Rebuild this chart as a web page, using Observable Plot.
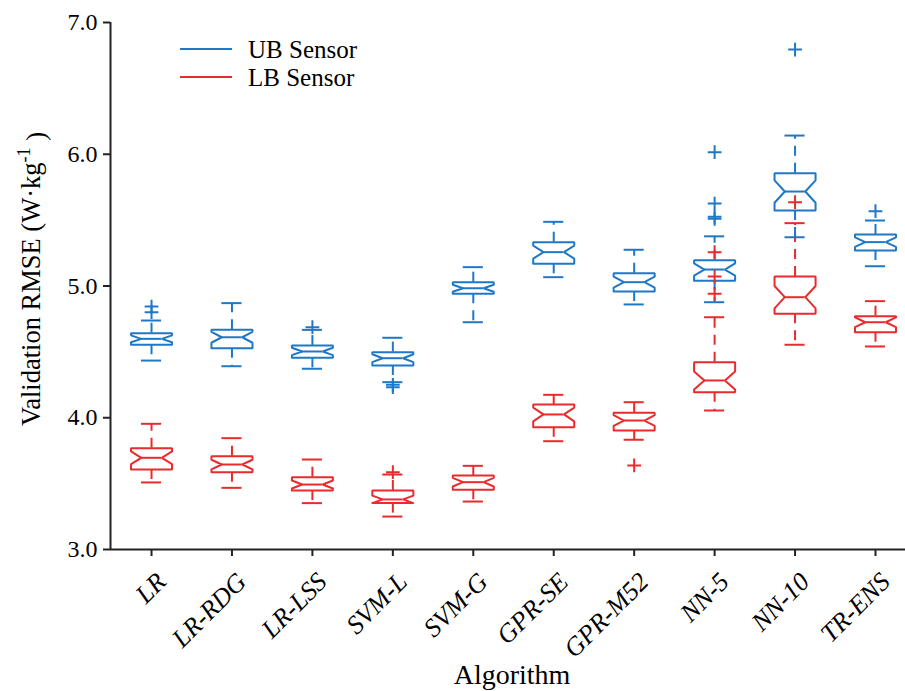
<!DOCTYPE html>
<html><head><meta charset="utf-8">
<script src="https://cdn.jsdelivr.net/npm/d3@7"></script>
<script src="https://cdn.jsdelivr.net/npm/@observablehq/plot@0.6"></script>
<style>body{margin:0;background:#fff} svg{display:block}</style>
</head><body><div id="chart"></div>
<script>
// ---- data ----
const algorithms = ["LR","LR-RDG","LR-LSS","SVM-L","SVM-G","GPR-SE","GPR-M52","NN-5","NN-10","TR-ENS"];
const yTicks = [3, 4, 5, 6, 7];
const seriesNames = ["UB Sensor", "LB Sensor"];

// UB sensor: lower whisker, Q1, median, Q3, upper whisker
const ubLowerWhisker = [4.434, 4.391, 4.372, 4.270, 4.725, 5.067, 4.860, 4.877, 5.370, 5.150];
const ubQ1           = [4.554, 4.528, 4.455, 4.397, 4.941, 5.168, 4.958, 5.040, 5.573, 5.269];
const ubMedian       = [4.599, 4.611, 4.503, 4.452, 4.983, 5.257, 5.029, 5.125, 5.717, 5.333];
const ubQ3           = [4.642, 4.667, 4.548, 4.498, 5.029, 5.333, 5.097, 5.195, 5.856, 5.391];
const ubUpperWhisker = [4.738, 4.870, 4.667, 4.607, 5.143, 5.487, 5.275, 5.377, 6.142, 5.497];
const ubOutliers = [[4.801, 4.844], [], [4.687], [4.250, 4.232], [], [], [], [5.510, 5.525, 5.626, 6.016], [6.795], [5.568]];

// LB sensor
const lbLowerWhisker = [3.509, 3.468, 3.352, 3.250, 3.364, 3.822, 3.833, 4.055, 4.554, 4.541];
const lbQ1           = [3.607, 3.587, 3.448, 3.352, 3.453, 3.928, 3.903, 4.194, 4.789, 4.649];
const lbMedian       = [3.696, 3.645, 3.493, 3.380, 3.511, 4.025, 3.979, 4.283, 4.915, 4.725];
const lbQ3           = [3.769, 3.708, 3.549, 3.448, 3.562, 4.101, 4.038, 4.422, 5.072, 4.771];
const lbUpperWhisker = [3.954, 3.845, 3.683, 3.569, 3.635, 4.174, 4.118, 4.763, 5.477, 4.885];
const lbOutliers = [[], [], [], [3.587], [], [], [3.638], [4.941, 5.072, 5.257], [5.636], []];

// ---- styling ----
const colors = {"UB Sensor": "#1f78c6", "LB Sensor": "#ea2b2e"};
const boxHalf = 0.255, notchInner = 0.5, capHalf = 0.125, notchK = 0.3;
const xDomain = [-0.51, 9.373];
const font = "'Liberation Serif', 'Times New Roman', serif";

// ---- build tables ----
const stats = [];
algorithms.forEach((a, i) => {
  stats.push({series: "UB Sensor", i, lw: ubLowerWhisker[i], q1: ubQ1[i], med: ubMedian[i], q3: ubQ3[i], uw: ubUpperWhisker[i]});
  stats.push({series: "LB Sensor", i, lw: lbLowerWhisker[i], q1: lbQ1[i], med: lbMedian[i], q3: lbQ3[i], uw: lbUpperWhisker[i]});
});
const outliers = [];
algorithms.forEach((a, i) => {
  ubOutliers[i].forEach(v => outliers.push({series: "UB Sensor", i, v}));
  lbOutliers[i].forEach(v => outliers.push({series: "LB Sensor", i, v}));
});
const boxPts = [];
stats.forEach(s => {
  const n = notchK * (s.q3 - s.q1);
  const lo = s.med - n, hi = s.med + n;
  const w = boxHalf, wi = boxHalf * notchInner;
  const key = s.series + s.i;
  const pts = [
    [s.i - w, s.q1], [s.i - w, lo], [s.i - wi, s.med], [s.i - w, hi], [s.i - w, s.q3],
    [s.i + w, s.q3], [s.i + w, hi], [s.i + wi, s.med], [s.i + w, lo], [s.i + w, s.q1], [s.i - w, s.q1]
  ];
  pts.forEach(([x, y]) => boxPts.push({key, series: s.series, x, y}));
});

const plot = Plot.plot({
  width: 905, height: 691,
  marginLeft: 110, marginRight: 0, marginTop: 22, marginBottom: 142,
  style: {fontFamily: font, background: "#fff", color: "#000"},
  x: {domain: xDomain, axis: null},
  y: {domain: [3, 7], axis: null},
  color: {domain: seriesNames, range: seriesNames.map(s => colors[s])},
  marks: [
    // whiskers
    Plot.ruleX(stats, {x: "i", y1: "q3", y2: "uw", stroke: "series", strokeWidth: 2, strokeDasharray: "10,7"}),
    Plot.ruleX(stats, {x: "i", y1: "q1", y2: "lw", stroke: "series", strokeWidth: 2, strokeDasharray: "10,7"}),
    // caps
    Plot.ruleY(stats, {y: "uw", x1: d => d.i - capHalf, x2: d => d.i + capHalf, stroke: "series", strokeWidth: 2}),
    Plot.ruleY(stats, {y: "lw", x1: d => d.i - capHalf, x2: d => d.i + capHalf, stroke: "series", strokeWidth: 2}),
    // notched boxes
    Plot.line(boxPts, {x: "x", y: "y", z: "key", stroke: "series", strokeWidth: 2, strokeLinejoin: "miter"}),
    // medians
    Plot.ruleY(stats, {y: "med", x1: d => d.i - boxHalf * notchInner, x2: d => d.i + boxHalf * notchInner, stroke: "series", strokeWidth: 2}),
    // outliers
    Plot.dot(outliers, {x: "i", y: "v", stroke: "series", symbol: "plus", r: 4.5, strokeWidth: 2}),
    // axes
    Plot.axisY({ticks: yTicks, tickFormat: d3.format(".1f"), tickSize: 7, tickPadding: 6, fontSize: 24, label: null, stroke: "#222", strokeWidth: 2}),
    // x ticks only
    Plot.axisX({ticks: d3.range(algorithms.length), tickFormat: () => "", tickSize: 7, label: null, stroke: "#222", strokeWidth: 2}),
    // x tick labels only (rotated)
    Plot.axisX({ticks: d3.range(algorithms.length), tickFormat: i => algorithms[i], tickSize: 0, tickRotate: -45,
      fontSize: 26, fontStyle: "italic", label: null, tickPadding: 13, dx: 10, dy: 15}),
    Plot.ruleY([yTicks[0]], {stroke: "#222", strokeWidth: 2}),
    Plot.ruleX([xDomain[0]], {stroke: "#222", strokeWidth: 2})
  ]
});

const svg = d3.select(plot);
// y label with superscript
const yl = svg.append("text")
  .attr("transform", "translate(40,279) rotate(-90)")
  .attr("text-anchor", "middle")
  .attr("font-family", font).attr("font-size", 26.5).attr("fill", "#000");
yl.append("tspan").text("Validation RMSE (W·kg");
yl.append("tspan").attr("dy", "-0.55em").attr("font-size", 18).text("-1");
yl.append("tspan").attr("dy", "0.55em").text(" )");
// x label
svg.append("text").attr("x", 512).attr("y", 684).attr("text-anchor", "middle")
  .attr("font-family", font).attr("font-size", 28).attr("fill", "#000").text("Algorithm");
// legend
const leg = svg.append("g");
seriesNames.forEach((s, k) => {
  const y = 49 + k * 28;
  leg.append("line").attr("x1", 180).attr("x2", 232).attr("y1", y).attr("y2", y)
    .attr("stroke", colors[s]).attr("stroke-width", 2);
  leg.append("text").attr("x", 248).attr("y", y).attr("dy", "0.35em").attr("text-anchor", "start")
    .attr("font-family", font).attr("font-size", 25).attr("fill", "#000").text(s);
});
document.getElementById("chart").appendChild(plot);
</script>
</body></html>
